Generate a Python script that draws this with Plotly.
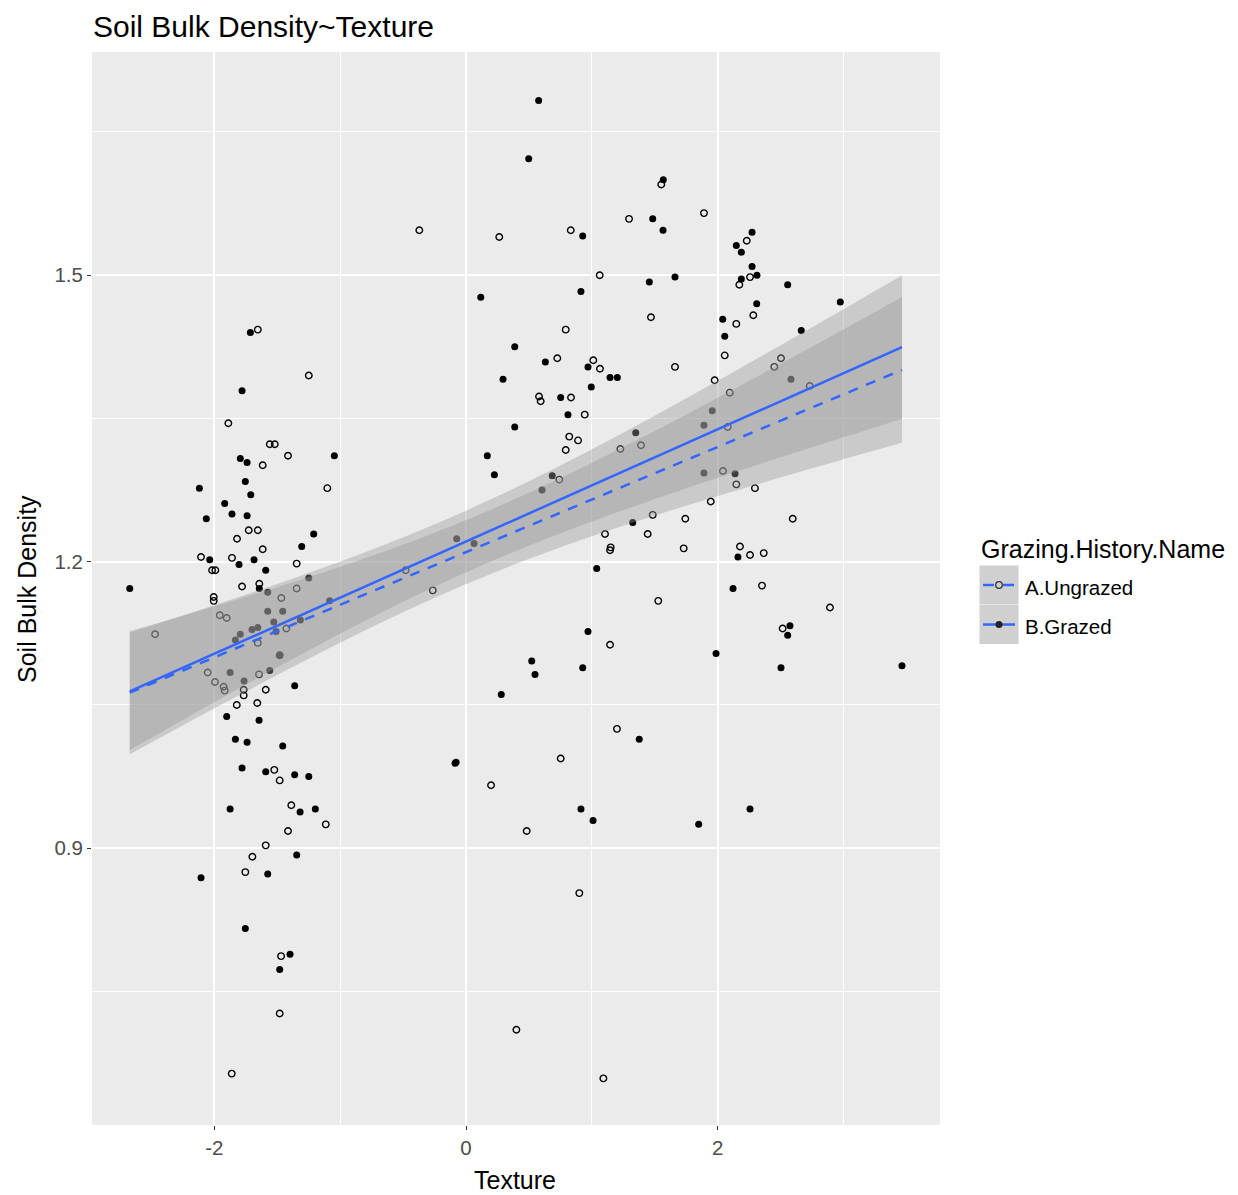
import numpy as np
import plotly.graph_objects as go

# ---------------- data ----------------
grazed_x = [-1.713, -1.779, -1.793, -1.739, -1.046, -1.753, -2.118, -1.710, -1.917, -1.859,
            -1.739, -2.063, -1.210, -1.305, -2.036, -1.803, -1.684, -1.591, -2.671, -1.642,
            -1.575, -1.249, -1.575, -1.456, -1.527, -1.509, -1.316, -1.083, -1.793, -1.700,
            -1.654, -1.832, -1.480, -1.874, -1.763, -1.559, -1.361, -1.901, -1.644, -1.832,
            -1.739, -1.456, -1.779, -1.591, -1.361, -1.249, -1.874, -1.318, -1.197, -1.345,
            -1.575, -2.105, -1.753, -1.398, -1.480,
            0.577, 0.498, 0.927, 1.483, 1.456, 0.117, 0.913, 0.387, 0.630, 0.969,
            1.144, 1.202, 0.294, 0.995, 0.752, 0.810, 0.387, 0.169, 0.225, 0.685,
            0.604, 1.348, 1.324, 1.038, -0.074, 0.064, 0.969, 0.522, 0.548, 0.927,
            0.280, 1.376, -0.079, -0.087, 0.913, 1.009,
            1.567, 1.565, 2.272, 2.147, 2.187, 2.272, 2.311, 2.187, 1.660, 2.555,
            2.973, 2.309, 2.039, 2.055, 2.663, 2.581, 1.956, 1.890, 1.890, 2.137,
            2.160, 2.121, 2.573, 2.555, 1.986, 2.502, 3.463, 2.256, 1.848]
grazed_y = [1.440, 1.379, 1.308, 1.304, 1.311, 1.284, 1.277, 1.270, 1.261, 1.250,
            1.248, 1.245, 1.229, 1.216, 1.202, 1.197, 1.202, 1.191, 1.172, 1.172,
            1.168, 1.183, 1.148, 1.148, 1.137, 1.127, 1.139, 1.159, 1.124, 1.129,
            1.131, 1.118, 1.102, 1.084, 1.075, 1.086, 1.070, 1.038, 1.034, 1.014,
            1.011, 1.007, 0.984, 0.980, 0.977, 0.975, 0.941, 0.938, 0.941, 0.893,
            0.873, 0.869, 0.816, 0.789, 0.773,
            1.683, 1.622, 1.541, 1.559, 1.493, 1.477, 1.483, 1.425, 1.409, 1.404,
            1.393, 1.393, 1.391, 1.383, 1.372, 1.354, 1.341, 1.311, 1.291, 1.290,
            1.275, 1.335, 1.241, 1.193, 1.224, 1.219, 1.127, 1.096, 1.082, 1.089,
            1.061, 1.014, 0.990, 0.989, 0.941, 0.929,
            1.600, 1.547, 1.545, 1.531, 1.524, 1.509, 1.500, 1.496, 1.498, 1.490,
            1.472, 1.470, 1.454, 1.436, 1.442, 1.391, 1.358, 1.343, 1.293, 1.292,
            1.205, 1.172, 1.133, 1.123, 1.104, 1.089, 1.091, 0.941, 0.925]

ungrazed_x = [-1.654, -1.249, -1.888, -1.559, -1.519, -1.615, -1.414, -1.102, -1.726, -1.654,
              -1.819, -1.615, -2.105, -1.859, -1.345, -2.017, -1.991, -1.779, -1.642, -1.467,
              -1.345, -2.004, -2.004, -1.956, -1.901, -1.427, -2.470, -1.654, -1.480, -2.052,
              -1.994, -1.925, -1.917, -1.766, -1.766, -1.644, -1.591, -1.821, -1.658, -1.523,
              -1.480, -1.388, -1.114, -1.414, -1.591, -1.697, -1.753, -1.469, -1.480, -1.861,
              -0.371, 0.264, 0.832, 1.295, 1.062, 1.469, 0.792, 0.725, 1.011, 1.064,
              0.580, 0.593, 0.834, 0.943, 0.820, 0.890, 0.792, 0.741, 1.390, 1.226,
              1.483, 1.104, 1.443, 1.144, 1.149, 1.527, -0.479, -0.264, 1.144, 1.199,
              0.752, 0.199, 0.482, 0.900, 0.400, 1.091,
              1.551, 1.890, 2.230, 2.256, 2.171, 2.282, 2.147, 2.055, 1.660, 2.502,
              2.449, 1.975, 2.730, 2.095, 2.079, 2.041, 2.147, 2.295, 1.944, 1.742,
              2.595, 1.729, 2.176, 2.256, 2.365, 2.351, 2.891, 2.515]
ungrazed_y = [1.443, 1.395, 1.345, 1.323, 1.323, 1.301, 1.311, 1.277, 1.233, 1.233,
              1.224, 1.213, 1.205, 1.204, 1.198, 1.191, 1.191, 1.174, 1.177, 1.162,
              1.172, 1.163, 1.159, 1.144, 1.141, 1.130, 1.124, 1.115, 1.102, 1.084,
              1.074, 1.069, 1.065, 1.066, 1.060, 1.082, 1.066, 1.050, 1.052, 0.982,
              0.971, 0.945, 0.925, 0.918, 0.903, 0.891, 0.875, 0.787, 0.727, 0.664,
              1.547, 1.540, 1.547, 1.559, 1.500, 1.456, 1.443, 1.413, 1.411, 1.402,
              1.373, 1.368, 1.372, 1.354, 1.331, 1.327, 1.317, 1.286, 1.322, 1.318,
              1.249, 1.229, 1.229, 1.212, 1.215, 1.159, 1.191, 1.170, 1.113, 1.025,
              0.994, 0.966, 0.918, 0.853, 0.710, 0.659,
              1.595, 1.565, 1.536, 1.498, 1.490, 1.458, 1.449, 1.416, 1.404, 1.413,
              1.404, 1.390, 1.384, 1.377, 1.341, 1.295, 1.281, 1.277, 1.263, 1.245,
              1.245, 1.214, 1.216, 1.207, 1.209, 1.175, 1.152, 1.130]

group_names = ["A.Ungrazed", "B.Grazed"]
x_ticks = [-2, 0, 2]
y_ticks = [0.9, 1.2, 1.5]

# ---------------- linear fits with 95% confidence bands ----------------
T_CRIT = 1.981
all_x = np.array(grazed_x + ungrazed_x)
grid = np.linspace(all_x.min(), all_x.max(), 80)


def lm_band(x, y, g):
    x = np.asarray(x, float)
    y = np.asarray(y, float)
    n = len(x)
    b, a = np.polyfit(x, y, 1)
    fit = a + b * g
    resid = y - (a + b * x)
    s = np.sqrt(np.sum(resid ** 2) / (n - 2))
    xbar = x.mean()
    sxx = np.sum((x - xbar) ** 2)
    se = s * np.sqrt(1.0 / n + (g - xbar) ** 2 / sxx)
    return fit, fit - T_CRIT * se, fit + T_CRIT * se


fit_u, lo_u, hi_u = lm_band(ungrazed_x, ungrazed_y, grid)
fit_g, lo_g, hi_g = lm_band(grazed_x, grazed_y, grid)

BLUE = "#3366FF"
BAND = "rgba(153,153,153,0.4)"

fig = go.Figure()
fig.add_trace(go.Scatter(x=ungrazed_x, y=ungrazed_y, mode="markers", showlegend=False,
                         marker=dict(symbol="circle-open", size=6.5, color="black",
                                     line=dict(width=1.4, color="black")),
                         hoverinfo="skip"))
fig.add_trace(go.Scatter(x=grazed_x, y=grazed_y, mode="markers", showlegend=False,
                         marker=dict(symbol="circle", size=7, color="black", line=dict(width=0)),
                         hoverinfo="skip"))
for lo, hi in [(lo_u, hi_u), (lo_g, hi_g)]:
    fig.add_trace(go.Scatter(x=np.concatenate([grid, grid[::-1]]),
                             y=np.concatenate([hi, lo[::-1]]),
                             fill="toself", fillcolor=BAND, mode="none",
                             line=dict(width=0), showlegend=False, hoverinfo="skip"))
fig.add_trace(go.Scatter(x=grid, y=fit_u, mode="lines", showlegend=False,
                         line=dict(color=BLUE, width=2.5, dash="10px,9px"), hoverinfo="skip"))
fig.add_trace(go.Scatter(x=grid, y=fit_g, mode="lines", showlegend=False,
                         line=dict(color=BLUE, width=2.5), hoverinfo="skip"))

# ---------------- layout ----------------
# page has an 8px body margin; targets below are page pixels
OFF = 8
W, H = 1238 - OFF, 1195 - OFF
L, R, T, B = 92, 940, 52, 1125          # plot area on the page
PW, PH = R - L, B - T


def px(xp):
    return (xp - L) / PW


def py(yp):
    return (B - yp) / PH


FONT = "Liberation Sans, Arial, sans-serif"

fig.update_layout(
    width=W, height=H,
    margin=dict(l=L - OFF, r=W - (R - OFF), t=T - OFF, b=H - (B - OFF), pad=0),
    paper_bgcolor="white", plot_bgcolor="#EBEBEB",
    font=dict(family=FONT, color="black"),
    showlegend=False,
)
axis_common = dict(showline=False, zeroline=False, ticks="outside", ticklen=4,
                   tickwidth=1.3, tickcolor="#333333", gridcolor="white", gridwidth=2,
                   tickfont=dict(family=FONT, size=20.5, color="#4D4D4D"))
fig.update_xaxes(range=[-2.971, 3.765], tickmode="array", tickvals=x_ticks,
                 ticktext=[str(v) for v in x_ticks],
                 minor=dict(tickmode="array", tickvals=[-1, 1, 3], showgrid=True,
                            gridcolor="white", gridwidth=1.2, ticks=""),
                 **axis_common)
fig.update_yaxes(range=[0.6102, 1.7337], tickmode="array", tickvals=y_ticks,
                 ticktext=[f"{v:.1f}" for v in y_ticks],
                 minor=dict(tickmode="array", tickvals=[0.75, 1.05, 1.35, 1.65], showgrid=True,
                            gridcolor="white", gridwidth=1.2, ticks=""),
                 **axis_common)

annotations = [
    dict(text="Soil Bulk Density~Texture", xref="paper", yref="paper", x=0, y=py(OFF + 1),
         xanchor="left", yanchor="top", showarrow=False, borderpad=0,
         font=dict(family=FONT, size=30, color="black")),
    dict(text="Texture", xref="paper", yref="paper", x=px(515), y=py(1180),
         xanchor="center", yanchor="middle", showarrow=False, borderpad=0,
         font=dict(family=FONT, size=25, color="black")),
    dict(text="Soil Bulk Density", xref="paper", yref="paper", x=px(27), y=py(589),
         xanchor="center", yanchor="middle", textangle=-90, showarrow=False,
         font=dict(family=FONT, size=25, color="black")),
    dict(text="Grazing.History.Name", xref="paper", yref="paper", x=px(979), y=py(549),
         xanchor="left", yanchor="middle", showarrow=False,
         font=dict(family=FONT, size=25, color="black")),
]

shapes = []
key_centers = [585, 624.5]
for i, (name, yc) in enumerate(zip(group_names, key_centers)):
    shapes.append(dict(type="rect", xref="paper", yref="paper",
                       x0=px(979.5), x1=px(1018.5), y0=py(yc - 19.5), y1=py(yc + 19.5),
                       fillcolor="#D0D0D0", line=dict(width=0), layer="above"))
    shapes.append(dict(type="line", xref="paper", yref="paper",
                       x0=px(983), x1=px(1015), y0=py(yc), y1=py(yc),
                       line=dict(color=BLUE, width=2.5,
                                 dash="11px,9px" if i == 0 else "solid"),
                       layer="above"))
    if i == 0:
        shapes.append(dict(type="circle", xref="paper", yref="paper",
                           xsizemode="pixel", ysizemode="pixel",
                           xanchor=px(999), yanchor=py(yc),
                           x0=-3.3, x1=3.3, y0=-3.3, y1=3.3,
                           fillcolor="#D0D0D0", line=dict(color="#333333", width=1.3),
                           layer="above"))
    else:
        shapes.append(dict(type="circle", xref="paper", yref="paper",
                           xsizemode="pixel", ysizemode="pixel",
                           xanchor=px(999), yanchor=py(yc),
                           x0=-3.5, x1=3.5, y0=-3.5, y1=3.5,
                           fillcolor="#222222", line=dict(width=0), layer="above"))
    annotations.append(dict(text=name, xref="paper", yref="paper", x=px(1023), y=py(yc + 2),
                            xanchor="left", yanchor="middle", showarrow=False,
                            font=dict(family=FONT, size=20.5, color="black")))

fig.update_layout(annotations=annotations, shapes=shapes)
fig.write_html("out.html")
